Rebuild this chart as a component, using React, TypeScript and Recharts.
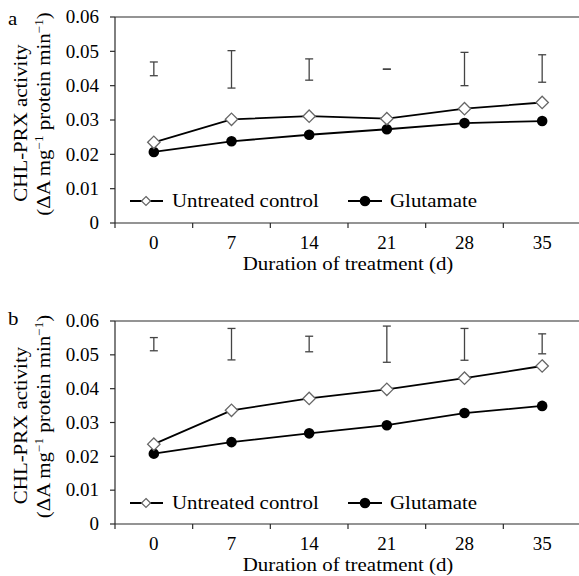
import React from 'react'
import { ErrorBar, Label, Line, LineChart, ReferenceLine, XAxis, YAxis } from 'recharts'

// Two stacked panels (a, b): CHL-PRX activity over 35 days, untreated vs glutamate,
// with the LSD-style bars floating above the lines.

const days = ['0', '7', '14', '21', '28', '35']
const yTicks = [0, 0.01, 0.02, 0.03, 0.04, 0.05, 0.06]
const seriesNames = ['Untreated control', 'Glutamate']

// panel a
const controlA = [0.0235, 0.0302, 0.0311, 0.0304, 0.0333, 0.0351]
const glutamateA = [0.0207, 0.0238, 0.0257, 0.0273, 0.0291, 0.0297]
const barTopA = [0.0469, 0.0502, 0.0478, 0.04485, 0.0497, 0.049]
const barBottomA = [0.0429, 0.0393, 0.0416, 0.04475, 0.04, 0.041]

// panel b
const controlB = [0.0236, 0.0336, 0.0371, 0.0398, 0.0431, 0.0467]
const glutamateB = [0.0208, 0.0242, 0.0268, 0.0292, 0.0328, 0.0349]
const barTopB = [0.0551, 0.0578, 0.0555, 0.0585, 0.0578, 0.0562]
const barBottomB = [0.0512, 0.0485, 0.0509, 0.0478, 0.0484, 0.0503]

const FONT = "'Liberation Serif', 'Times New Roman', serif"
const FS = 19
const STRETCH = 1.1 // the source typeface is set a bit wide for words
const INK = '#000'
const AXIS = '#2b2b2b'

const CHART_W = 585
const PLOT_LEFT = 115
const MARGIN_RIGHT = 4
const HALF_BAND = (CHART_W - MARGIN_RIGHT - PLOT_LEFT) / days.length / 2

function buildRows(control: number[], glutamate: number[], top: number[], bottom: number[]) {
  return days.map((day, i) => ({
    day,
    control: control[i],
    glutamate: glutamate[i],
    barMid: (top[i] + bottom[i]) / 2,
    barHalf: (top[i] - bottom[i]) / 2,
  }))
}

function Wide({ x, y, anchor = 'middle', rotate = 0, stretch = STRETCH, children }: any) {
  return (
    <g transform={`translate(${x},${y}) rotate(${rotate}) scale(${stretch},1)`}>
      <text x={0} y={0} textAnchor={anchor} fontFamily={FONT} fontSize={FS} fill={INK}>
        {children}
      </text>
    </g>
  )
}

function XTick({ x, y, payload }: any) {
  return (
    <g>
      <line x1={x - HALF_BAND} y1={y} x2={x - HALF_BAND} y2={y + 5} stroke={AXIS} strokeWidth={1.2} />
      <Wide x={x} y={y + 25.5} stretch={1}>{payload.value}</Wide>
    </g>
  )
}

function YTick({ x, y, payload }: any) {
  const v = Number(payload.value)
  return (
    <g>
      <line x1={x - 5} y1={y} x2={x} y2={y} stroke={AXIS} strokeWidth={1.2} />
      <Wide x={x - 16} y={y + 6.3} anchor="end" stretch={1}>{v === 0 ? '0' : v.toFixed(2)}</Wide>
    </g>
  )
}

function Diamond({ cx, cy, index }: any) {
  const s = 6.2
  return (
    <path
      key={`d-${index}`}
      d={`M${cx},${cy - s}L${cx + s},${cy}L${cx},${cy + s}L${cx - s},${cy}Z`}
      fill="#fff"
      stroke="#666"
      strokeWidth={1.3}
    />
  )
}

function xLabel(props: any) {
  const vb = props.viewBox
  return <Wide x={vb.x + vb.width / 2} y={vb.y + 46.5}>Duration of treatment (d)</Wide>
}

function yLabel(props: any) {
  const vb = props.viewBox
  const cy = vb.y + vb.height / 2
  return (
    <g>
      <Wide x={26.5} y={cy + 3} rotate={-90}>CHL-PRX activity</Wide>
      <Wide x={49.5} y={cy - 6} rotate={-90}>
        (ΔA mg<tspan fontSize={12} dy={-7}>−1</tspan>
        <tspan dy={7}> protein min</tspan>
        <tspan fontSize={12} dy={-7}>−1</tspan>
        <tspan dy={7}>)</tspan>
      </Wide>
    </g>
  )
}

function LegendOverlay({ cy, letter }: { cy: number; letter: string }) {
  return (
    <svg
      width={579}
      height={300}
      style={{ position: 'absolute', left: 0, top: 0, pointerEvents: 'none', overflow: 'visible' }}
    >
      <Wide x={8} y={25} anchor="start">{letter}</Wide>
      <line x1={130} y1={cy} x2={163} y2={cy} stroke={INK} strokeWidth={2} />
      <path d={`M146,${cy - 4.5}L150.5,${cy}L146,${cy + 4.5}L141.5,${cy}Z`} fill="#fff" stroke="#666" strokeWidth={1.2} />
      <Wide x={172} y={cy + 6.3} anchor="start">{seriesNames[0]}</Wide>
      <line x1={348} y1={cy} x2={382} y2={cy} stroke={INK} strokeWidth={2} />
      <circle cx={365} cy={cy} r={5.3} fill="#000" />
      <Wide x={390} y={cy + 6.3} anchor="start">{seriesNames[1]}</Wide>
    </svg>
  )
}

function Panel({ rows, letter, top, height, marginTop, axisHeight, legendY }: any) {
  return (
    <div style={{ position: 'absolute', left: 0, top, width: 579, height, overflow: 'hidden' }}>
      <LineChart
        width={CHART_W}
        height={height}
        data={rows}
        margin={{ top: marginTop, right: MARGIN_RIGHT, bottom: 0, left: 0 }}
      >
        <XAxis
          dataKey="day"
          scale="band"
          height={axisHeight}
          tick={<XTick />}
          tickLine={false}
          tickSize={0}
          tickMargin={0}
          axisLine={{ stroke: AXIS, strokeWidth: 1.2 }}
          interval={0}
        >
          <Label content={xLabel} />
        </XAxis>
        <YAxis
          width={PLOT_LEFT}
          domain={[0, 0.06]}
          ticks={yTicks}
          allowDataOverflow
          tick={<YTick />}
          tickLine={false}
          tickSize={0}
          tickMargin={0}
          axisLine={{ stroke: AXIS, strokeWidth: 1.2 }}
        >
          <Label content={yLabel} />
        </YAxis>
        <ReferenceLine y={0.06} stroke={AXIS} strokeWidth={1.2} />
        <Line
          dataKey="barMid"
          stroke="none"
          dot={false}
          activeDot={false}
          legendType="none"
          isAnimationActive={false}
        >
          <ErrorBar dataKey="barHalf" width={4} stroke="#444" strokeWidth={1.3} direction="y" isAnimationActive={false} />
        </Line>
        <Line
          dataKey="glutamate"
          stroke={INK}
          strokeWidth={1.8}
          dot={{ r: 5.3, fill: '#000', stroke: '#000', strokeWidth: 0 }}
          activeDot={false}
          isAnimationActive={false}
        />
        <Line
          dataKey="control"
          stroke={INK}
          strokeWidth={1.8}
          dot={<Diamond />}
          activeDot={false}
          isAnimationActive={false}
        />
      </LineChart>
      <LegendOverlay cy={legendY} letter={letter} />
    </div>
  )
}

export default function App() {
  const rowsA = buildRows(controlA, glutamateA, barTopA, barBottomA)
  const rowsB = buildRows(controlB, glutamateB, barTopB, barBottomB)
  return (
    <div
      style={{
        position: 'fixed',
        left: 0,
        top: 0,
        width: 579,
        height: 576,
        overflow: 'hidden',
        background: '#fff',
      }}
    >
      <Panel rows={rowsA} letter="a" top={0} height={300} marginTop={17} axisHeight={77} legendY={201} />
      <Panel rows={rowsB} letter="b" top={300} height={276} marginTop={21} axisHeight={52} legendY={203} />
    </div>
  )
}
